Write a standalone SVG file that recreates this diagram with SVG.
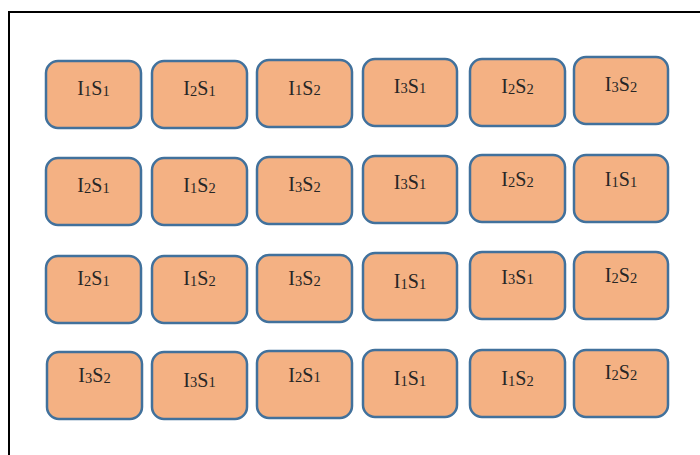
<svg xmlns="http://www.w3.org/2000/svg" width="700" height="455" viewBox="0 0 700 455">
  <style>
    .frame { fill: #ffffff; stroke: #000000; stroke-width: 2; }
    .cell rect { fill: #F4B183; stroke: #41719C; stroke-width: 2.5; }
    .cell text { font-family: "Liberation Serif", "Times New Roman", serif; font-size: 20px; fill: #262626; text-anchor: middle; }
    .sub { font-size: 14.5px; }
  </style>
  <rect x="0" y="0" width="700" height="455" fill="#ffffff"/>
  <!-- outer frame, running past the right and bottom edges -->
  <rect class="frame" x="9" y="12" width="720" height="470"/>

  <!-- row 1 -->
  <g id="r1c1" class="cell"><rect x="46" y="61" width="95" height="67" rx="12"/><text x="93.5" y="95.3">I<tspan class="sub" dy="0.7">1</tspan><tspan dy="-0.7">S</tspan><tspan class="sub" dy="0.7">1</tspan></text></g>
  <g id="r1c2" class="cell"><rect x="152" y="61" width="95" height="67" rx="12"/><text x="199.5" y="95.3">I<tspan class="sub" dy="0.7">2</tspan><tspan dy="-0.7">S</tspan><tspan class="sub" dy="0.7">1</tspan></text></g>
  <g id="r1c3" class="cell"><rect x="257" y="60" width="95" height="67" rx="12"/><text x="304.5" y="94.7">I<tspan class="sub" dy="0.7">1</tspan><tspan dy="-0.7">S</tspan><tspan class="sub" dy="0.7">2</tspan></text></g>
  <g id="r1c4" class="cell"><rect x="363" y="59" width="94" height="67" rx="12"/><text x="410" y="92.7">I<tspan class="sub" dy="0.7">3</tspan><tspan dy="-0.7">S</tspan><tspan class="sub" dy="0.7">1</tspan></text></g>
  <g id="r1c5" class="cell"><rect x="470" y="59" width="95" height="67" rx="12"/><text x="517.5" y="93.3">I<tspan class="sub" dy="0.7">2</tspan><tspan dy="-0.7">S</tspan><tspan class="sub" dy="0.7">2</tspan></text></g>
  <g id="r1c6" class="cell"><rect x="574" y="57" width="94" height="67" rx="12"/><text x="621" y="91.3">I<tspan class="sub" dy="0.7">3</tspan><tspan dy="-0.7">S</tspan><tspan class="sub" dy="0.7">2</tspan></text></g>

  <!-- row 2 -->
  <g id="r2c1" class="cell"><rect x="46" y="158" width="95" height="67" rx="12"/><text x="93.5" y="192">I<tspan class="sub" dy="0.7">2</tspan><tspan dy="-0.7">S</tspan><tspan class="sub" dy="0.7">1</tspan></text></g>
  <g id="r2c2" class="cell"><rect x="152" y="158" width="95" height="67" rx="12"/><text x="199.5" y="192">I<tspan class="sub" dy="0.7">1</tspan><tspan dy="-0.7">S</tspan><tspan class="sub" dy="0.7">2</tspan></text></g>
  <g id="r2c3" class="cell"><rect x="257" y="157" width="95" height="67" rx="12"/><text x="304.5" y="191.3">I<tspan class="sub" dy="0.7">3</tspan><tspan dy="-0.7">S</tspan><tspan class="sub" dy="0.7">2</tspan></text></g>
  <g id="r2c4" class="cell"><rect x="363" y="156" width="94" height="67" rx="12"/><text x="410" y="188.7">I<tspan class="sub" dy="0.7">3</tspan><tspan dy="-0.7">S</tspan><tspan class="sub" dy="0.7">1</tspan></text></g>
  <g id="r2c5" class="cell"><rect x="470" y="155" width="95" height="67" rx="12"/><text x="517.5" y="186.3">I<tspan class="sub" dy="0.7">2</tspan><tspan dy="-0.7">S</tspan><tspan class="sub" dy="0.7">2</tspan></text></g>
  <g id="r2c6" class="cell"><rect x="574" y="155" width="94" height="67" rx="12"/><text x="621" y="186.3">I<tspan class="sub" dy="0.7">1</tspan><tspan dy="-0.7">S</tspan><tspan class="sub" dy="0.7">1</tspan></text></g>

  <!-- row 3 -->
  <g id="r3c1" class="cell"><rect x="46" y="256" width="95" height="67" rx="12"/><text x="93.5" y="285.3">I<tspan class="sub" dy="0.7">2</tspan><tspan dy="-0.7">S</tspan><tspan class="sub" dy="0.7">1</tspan></text></g>
  <g id="r3c2" class="cell"><rect x="152" y="256" width="95" height="67" rx="12"/><text x="199.5" y="285.3">I<tspan class="sub" dy="0.7">1</tspan><tspan dy="-0.7">S</tspan><tspan class="sub" dy="0.7">2</tspan></text></g>
  <g id="r3c3" class="cell"><rect x="257" y="255" width="95" height="67" rx="12"/><text x="304.5" y="285.3">I<tspan class="sub" dy="0.7">3</tspan><tspan dy="-0.7">S</tspan><tspan class="sub" dy="0.7">2</tspan></text></g>
  <g id="r3c4" class="cell"><rect x="363" y="253" width="94" height="67" rx="12"/><text x="410" y="288">I<tspan class="sub" dy="0.7">1</tspan><tspan dy="-0.7">S</tspan><tspan class="sub" dy="0.7">1</tspan></text></g>
  <g id="r3c5" class="cell"><rect x="470" y="252" width="95" height="67" rx="12"/><text x="517.5" y="283.7">I<tspan class="sub" dy="0.7">3</tspan><tspan dy="-0.7">S</tspan><tspan class="sub" dy="0.7">1</tspan></text></g>
  <g id="r3c6" class="cell"><rect x="574" y="252" width="94" height="67" rx="12"/><text x="621" y="282">I<tspan class="sub" dy="0.7">2</tspan><tspan dy="-0.7">S</tspan><tspan class="sub" dy="0.7">2</tspan></text></g>

  <!-- row 4 -->
  <g id="r4c1" class="cell"><rect x="47" y="352" width="95" height="67" rx="12"/><text x="94.5" y="382.3">I<tspan class="sub" dy="0.7">3</tspan><tspan dy="-0.7">S</tspan><tspan class="sub" dy="0.7">2</tspan></text></g>
  <g id="r4c2" class="cell"><rect x="152" y="352" width="95" height="67" rx="12"/><text x="199.5" y="386.7">I<tspan class="sub" dy="0.7">3</tspan><tspan dy="-0.7">S</tspan><tspan class="sub" dy="0.7">1</tspan></text></g>
  <g id="r4c3" class="cell"><rect x="257" y="351" width="95" height="67" rx="12"/><text x="304.5" y="381.7">I<tspan class="sub" dy="0.7">2</tspan><tspan dy="-0.7">S</tspan><tspan class="sub" dy="0.7">1</tspan></text></g>
  <g id="r4c4" class="cell"><rect x="363" y="350" width="94" height="67" rx="12"/><text x="410" y="385">I<tspan class="sub" dy="0.7">1</tspan><tspan dy="-0.7">S</tspan><tspan class="sub" dy="0.7">1</tspan></text></g>
  <g id="r4c5" class="cell"><rect x="470" y="350" width="95" height="67" rx="12"/><text x="517.5" y="385">I<tspan class="sub" dy="0.7">1</tspan><tspan dy="-0.7">S</tspan><tspan class="sub" dy="0.7">2</tspan></text></g>
  <g id="r4c6" class="cell"><rect x="574" y="350" width="94" height="67" rx="12"/><text x="621" y="379.3">I<tspan class="sub" dy="0.7">2</tspan><tspan dy="-0.7">S</tspan><tspan class="sub" dy="0.7">2</tspan></text></g>
</svg>
